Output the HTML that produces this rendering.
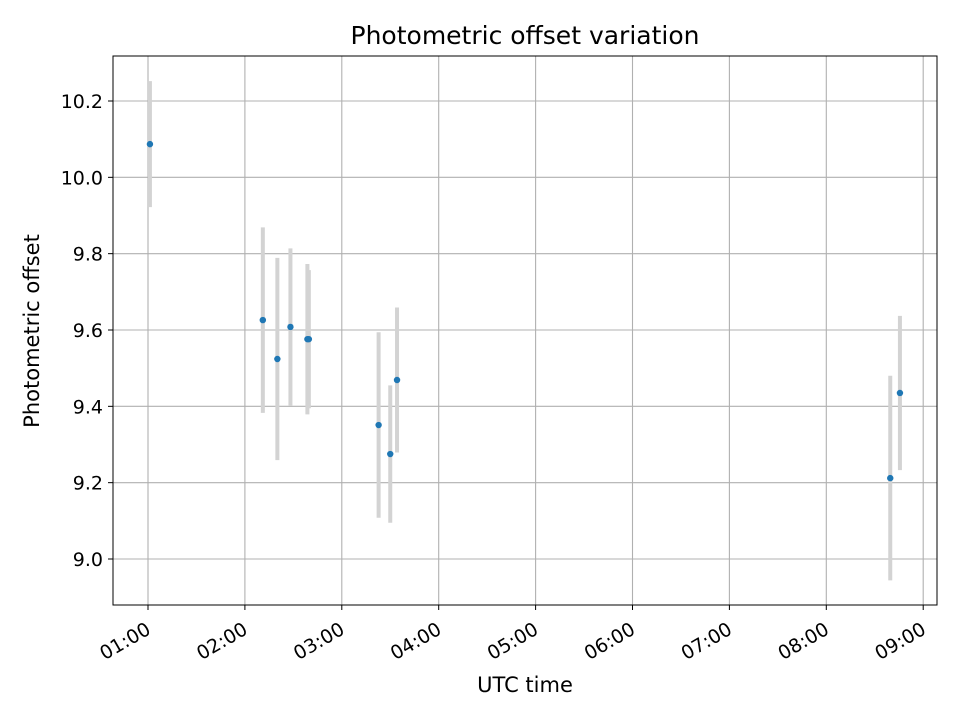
<!DOCTYPE html>
<html><head><meta charset="utf-8"><style>
body{margin:0;background:#fff;font-family:"Liberation Sans","DejaVu Sans",sans-serif}
svg text{font-family:"DejaVu Sans","Liberation Sans",sans-serif;fill:#000}
</style></head><body>
<svg id="chart" width="960" height="720"></svg>
<script>
const times=[1.02,2.185,2.335,2.47,2.645,2.66,3.38,3.5,3.57,8.66,8.76];
const values=[10.087,9.626,9.524,9.608,9.576,9.576,9.351,9.275,9.469,9.212,9.435];
const errors=[0.165,0.243,0.265,0.206,0.197,0.181,0.243,0.18,0.19,0.268,0.202];
const xTicks=[1,2,3,4,5,6,7,8,9];
const xTickLabels=["01:00","02:00","03:00","04:00","05:00","06:00","07:00","08:00","09:00"];
const yTicks=[9.0,9.2,9.4,9.6,9.8,10.0,10.2];
const yTickLabels=["9.0","9.2","9.4","9.6","9.8","10.0","10.2"];
const L=113,R=937,T=56,B=605;
const xs=t=>148+(t-1)*96.9;
const ys=v=>559-(v-9.0)*381.67;
const NS="http://www.w3.org/2000/svg";
const svg=document.getElementById('chart');
function mk(tag,attrs,parent){const e=document.createElementNS(NS,tag);for(const k in attrs)e.setAttribute(k,attrs[k]);(parent||svg).appendChild(e);return e;}
mk('rect',{x:0,y:0,width:960,height:720,fill:'#fff'});
const grid=mk('g',{});


xTicks.forEach((t,i)=>{const x=xs(t);
 mk('line',{x1:x,x2:x,y1:T,y2:B,stroke:'#b0b0b0','stroke-width':1.1},grid);
 mk('line',{x1:x,x2:x,y1:B,y2:B+5,stroke:'#000','stroke-width':1});
 const tx=mk('text',{x:x+4,y:B+28,'font-size':19,'text-anchor':'end',transform:`rotate(-30 ${x+4} ${B+28})`});
 tx.textContent=xTickLabels[i];
 
 
});
yTicks.forEach((v,i)=>{const y=ys(v);
 mk('line',{x1:L,x2:R,y1:y,y2:y,stroke:'#b0b0b0','stroke-width':1.1},grid);
 mk('line',{x1:L-5,x2:L,y1:y,y2:y,stroke:'#000','stroke-width':1});
 const tx=mk('text',{x:L-10,y:y+7,'font-size':19,'text-anchor':'end'});
 tx.textContent=yTickLabels[i];
 
 
});
const eb=mk('g',{});


times.forEach((t,i)=>{
 const l=mk('line',{x1:xs(t),x2:xs(t),y1:ys(values[i]+errors[i]),y2:ys(values[i]-errors[i]),stroke:'#d3d3d3','stroke-width':4},eb);
 
 
});
const pts=mk('g',{});


times.forEach((t,i)=>{
 const c=mk('circle',{cx:xs(t),cy:ys(values[i]),r:3.2,fill:'#1f77b4'},pts);
 
 
});
const fr=mk('rect',{x:L,y:T,width:R-L,height:B-T,fill:'none',stroke:'#000','stroke-width':1});


const title=mk('text',{x:525,y:44,'font-size':25,'text-anchor':'middle'});
title.textContent='Photometric offset variation';


const xl=mk('text',{x:525,y:692,'font-size':21,'text-anchor':'middle'});
xl.textContent='UTC time';


const yl=mk('text',{x:39,y:331,'font-size':21,'text-anchor':'middle',transform:'rotate(-90 39 331)'});
yl.textContent='Photometric offset';


</script>
</body></html>
